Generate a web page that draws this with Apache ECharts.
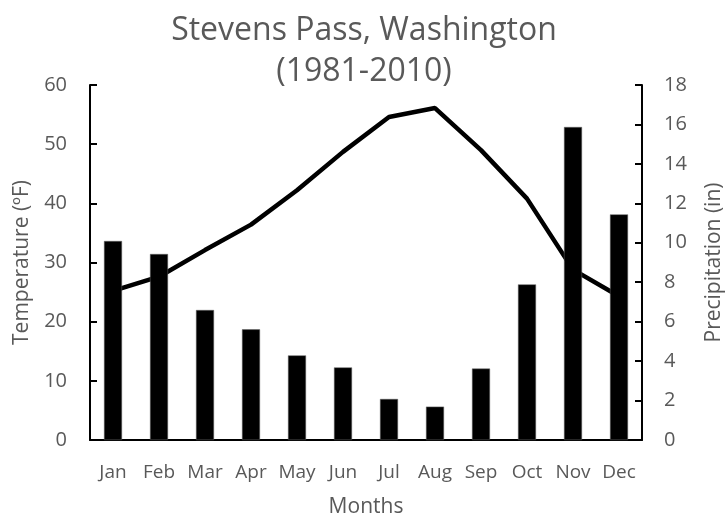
<!DOCTYPE html>
<html><head><meta charset="utf-8">
<script src="https://cdn.jsdelivr.net/npm/echarts@6/dist/echarts.min.js"></script>
<style>html,body{margin:0;padding:0;background:#fff}#c{width:728px;height:521px}</style>
</head><body><div id="c"></div>
<script>
const months = ['Jan','Feb','Mar','Apr','May','Jun','Jul','Aug','Sep','Oct','Nov','Dec'];
const temperature = [25.2, 27.6, 32.1, 36.4, 42.2, 48.7, 54.6, 56.1, 49.0, 40.8, 28.8, 24.3];
const precipitation = [10.09, 9.43, 6.59, 5.61, 4.29, 3.68, 2.08, 1.69, 3.62, 7.89, 15.87, 11.44];
const tempTicks = {min: 0, max: 60, interval: 10};
const precTicks = {min: 0, max: 18, interval: 2};

const FONT = 'Open Sans';
const GREY = '#595959';
const chart = echarts.init(document.getElementById('c'), null, {renderer: 'canvas'});
chart.setOption({
  animation: false,
  backgroundColor: '#fff',
  title: {
    text: 'Stevens Pass, Washington\n(1981-2010)',
    left: 'center', top: 5,
    textStyle: {fontFamily: FONT, fontSize: 32, fontWeight: 'normal', color: GREY, lineHeight: 41}
  },
  grid: {left: 90, right: 86, top: 85, bottom: 81, containLabel: false, outerBoundsMode: 'none'},
  xAxis: {
    type: 'category', data: months, boundaryGap: true,
    name: 'Months', nameLocation: 'middle', nameGap: 57,
    nameTextStyle: {fontFamily: FONT, fontSize: 21, color: GREY},
    axisLine: {lineStyle: {color: '#000', width: 2}},
    axisTick: {inside: true, length: 6, lineStyle: {color: '#000', width: 2}},
    axisLabel: {fontFamily: FONT, fontSize: 19, color: GREY, margin: 23, interval: 0}
  },
  yAxis: [{
    type: 'value', min: tempTicks.min, max: tempTicks.max, interval: tempTicks.interval,
    name: 'Temperature (ºF)', nameLocation: 'middle', nameGap: 57, nameRotate: 90,
    nameTextStyle: {fontFamily: FONT, fontSize: 21, color: GREY},
    axisLine: {show: true, lineStyle: {color: '#000', width: 2}},
    axisTick: {show: true, inside: true, length: 7, lineStyle: {color: '#000', width: 2}},
    axisLabel: {fontFamily: FONT, fontSize: 20, color: GREY, margin: 23},
    splitLine: {show: false}
  }, {
    type: 'value', min: precTicks.min, max: precTicks.max, interval: precTicks.interval,
    name: 'Precipitation (in)', nameLocation: 'middle', nameGap: 62, nameRotate: 90,
    nameTextStyle: {fontFamily: FONT, fontSize: 21, color: GREY},
    axisLine: {show: true, lineStyle: {color: '#000', width: 2}},
    axisTick: {show: true, inside: true, length: 7, lineStyle: {color: '#000', width: 2}},
    axisLabel: {fontFamily: FONT, fontSize: 20, color: GREY, margin: 22},
    splitLine: {show: false}
  }],
  series: [{
    type: 'line', data: temperature, yAxisIndex: 0, z: 2,
    showSymbol: false, symbol: 'none',
    lineStyle: {color: '#000', width: 4.5}
  }, {
    type: 'bar', data: precipitation, yAxisIndex: 1, z: 3,
    barWidth: 18,
    itemStyle: {color: '#000', borderColor: '#666', borderWidth: 0.5}
  }]
});
</script></body></html>
